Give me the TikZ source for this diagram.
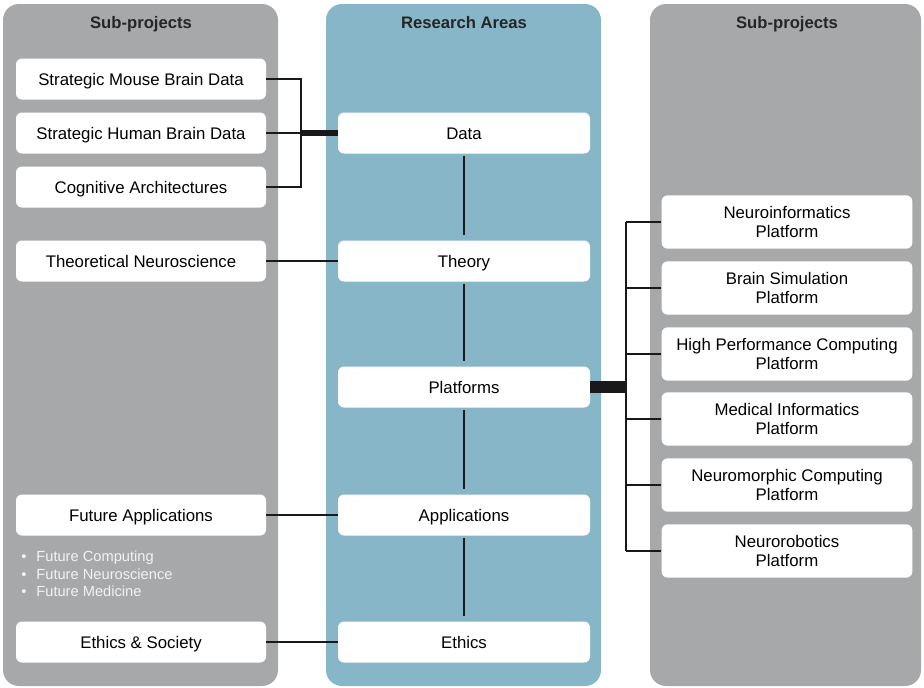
\documentclass[tikz,border=0pt]{standalone}
\usepackage{fontspec}
\setmainfont{Liberation Sans}

\definecolor{panelgray}{HTML}{A7A8AA}
\definecolor{panelblue}{HTML}{87B6C8}
\definecolor{notegray}{HTML}{F2F2F2}

\tikzset{
  panel/.style={rounded corners=12pt},
  heading/.style={font=\fontsize{12.5}{14}\selectfont\bfseries, text=black!85,
    text height=9pt, text depth=0pt},
  subbox/.style={fill=white, rounded corners=4.5pt, inner sep=0pt,
    minimum width=187.5pt, minimum height=30.75pt,
    text height=9pt, text depth=0pt,
    font=\fontsize{12.6}{14}\selectfont},
  areabox/.style={subbox, minimum width=189pt},
  platbox/.style={fill=white, rounded corners=4.5pt, inner sep=0pt,
    minimum width=188pt, minimum height=40pt,
    align=center, font=\fontsize{12.6}{14.3}\selectfont},
  link/.style={draw=black!90, line width=1.5pt},
  bundle/.style={draw=black!90, line width=#1},
}

\begin{document}
\begin{tikzpicture}[x=0.75pt, y=-0.75pt]
\useasboundingbox (0,0) rectangle (924,687);
\fill[white] (0,0) rectangle (924,687);

% the three columns
\fill[panelgray, panel] (3,4) rectangle (278,686);
\fill[panelblue, panel] (326,4) rectangle (601,686);
\fill[panelgray, panel] (650,4) rectangle (921,686);

\node[heading] (hleft) at (141,22) {Sub-projects};
\node[heading] (hmid) at (464,22) {Research Areas};
\node[heading] (hright) at (787,22) {Sub-projects};

% left column
\node[subbox] (mouse) at (141,79) {Strategic Mouse Brain Data};
\node[subbox] (human) at (141,133) {Strategic Human Brain Data};
\node[subbox] (cog) at (141,187) {Cognitive Architectures};
\node[subbox] (theo) at (141,261) {Theoretical Neuroscience};
\node[subbox] (future) at (141,515) {Future Applications};
\node[subbox] (ethsoc) at (141,642) {Ethics \& Society};

\node[anchor=north west, align=left, inner sep=0pt, text=notegray,
  font=\fontsize{11}{12.9}\selectfont] (notes) at (21,551)
  {\textbullet\hspace{7.5pt}Future Computing\\
   \textbullet\hspace{7.5pt}Future Neuroscience\\
   \textbullet\hspace{7.5pt}Future Medicine};

% middle column
\node[areabox] (data) at (464,133) {Data};
\node[areabox] (theory) at (464,261) {Theory};
\node[areabox] (plat) at (464,387) {Platforms};
\node[areabox] (appl) at (464,515) {Applications};
\node[areabox] (ethics) at (464,642) {Ethics};

% right column
\node[platbox] (ni) at (787,222) {Neuroinformatics\\Platform};
\node[platbox] (bs) at (787,288) {Brain Simulation\\Platform};
\node[platbox] (hpc) at (787,354) {High Performance Computing\\Platform};
\node[platbox] (mi) at (787,419) {Medical Informatics\\Platform};
\node[platbox] (nc) at (787,485) {Neuromorphic Computing\\Platform};
\node[platbox] (nr) at (787,551) {Neurorobotics\\Platform};

% connectors
\coordinate (lj) at (301,133);
\coordinate (rj) at (626,387);

\draw[link] (mouse.east) -| (lj) |- (cog.east);
\draw[link] (human.east) -- (lj);
\draw[bundle=4.5pt] (lj) -- (data.west |- lj);

\foreach \a/\b in {data/theory, theory/plat, plat/appl, appl/ethics}
  \draw[link, shorten <=1.5pt, shorten >=4pt] (\a) -- (\b);

\draw[link] (theo.east) -- (theory.west);
\draw[link] (future.east) -- (appl.west);
\draw[link] (ethsoc.east) -- (ethics.west);

\draw[bundle=9pt] (plat.east) -- (rj);
\draw[link] (ni.west -| rj) -- (nr.west -| rj);
\foreach \n in {ni, bs, hpc, mi, nc, nr}
  \draw[link] (\n.west -| rj) -- (\n.west);
\end{tikzpicture}
\end{document}
